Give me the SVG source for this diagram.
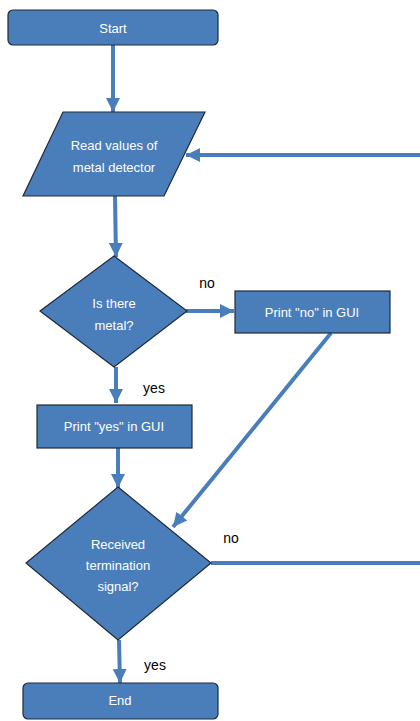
<svg xmlns="http://www.w3.org/2000/svg" width="420" height="721" viewBox="0 0 420 721">
<defs>
<style>
.n{fill:#4a7ebb;stroke:#1f2a38;stroke-width:1.2}
.t{fill:#fff;font-family:"Liberation Sans","Noto Sans",sans-serif;font-size:13px;text-anchor:middle}
.l{fill:#000;font-family:"Liberation Sans",Arial,sans-serif;font-size:14px;text-anchor:middle}
.c{fill:none;stroke:#4a7ebb;stroke-width:4}
</style>
<marker id="ah" markerUnits="userSpaceOnUse" markerWidth="16" markerHeight="16" viewBox="0 0 16 16" refX="14" refY="8" orient="auto">
<path d="M0,1 L14,8 L0,15 Z" fill="#4a7ebb"/>
</marker>
</defs>
<g id="connectors">
<line class="c" x1="113" y1="45" x2="113" y2="112" marker-end="url(#ah)"/>
<line class="c" x1="420" y1="155" x2="186" y2="155" marker-end="url(#ah)"/>
<line class="c" x1="115" y1="196" x2="116" y2="257" marker-end="url(#ah)"/>
<line class="c" x1="186" y1="311" x2="234" y2="311" marker-end="url(#ah)"/>
<line class="c" x1="116" y1="367" x2="116" y2="403" marker-end="url(#ah)"/>
<line class="c" x1="331" y1="333" x2="173" y2="527" marker-end="url(#ah)"/>
<line class="c" x1="118" y1="448" x2="118" y2="488" marker-end="url(#ah)"/>
<line class="c" x1="211" y1="563" x2="420" y2="563"/>
<line class="c" x1="119" y1="640" x2="120" y2="683" marker-end="url(#ah)"/>
<text class="l" x="207" y="288">no</text>
<text class="l" x="154" y="393">yes</text>
<text class="l" x="231" y="543">no</text>
<text class="l" x="155" y="670">yes</text>
</g>
<g id="start">
<rect class="n" x="8" y="10" width="210" height="35" rx="5"/>
<text class="t" x="113" y="33">Start</text>
</g>
<g id="read">
<polygon class="n" points="63,112 205,112 164,196 23,196"/>
<text class="t" x="114" y="150">Read values of</text>
<text class="t" x="114" y="172">metal detector</text>
</g>
<g id="metal">
<polygon class="n" points="114,256 187,311 114,367 40,311"/>
<text class="t" x="114" y="308">Is there</text>
<text class="t" x="114" y="330">metal?</text>
</g>
<g id="printno">
<rect class="n" x="235" y="291" width="155" height="42"/>
<text class="t" x="312" y="317">Print "no" in GUI</text>
</g>
<g id="printyes">
<rect class="n" x="37" y="405" width="155" height="43"/>
<text class="t" x="114" y="431">Print "yes" in GUI</text>
</g>
<g id="term">
<polygon class="n" points="118,487 211,563 118,640 26,563"/>
<text class="t" x="118" y="549">Received</text>
<text class="t" x="118" y="570">termination</text>
<text class="t" x="118" y="591">signal?</text>
</g>
<g id="end">
<rect class="n" x="23" y="683" width="195" height="36" rx="5"/>
<text class="t" x="120" y="705">End</text>
</g>
</svg>
